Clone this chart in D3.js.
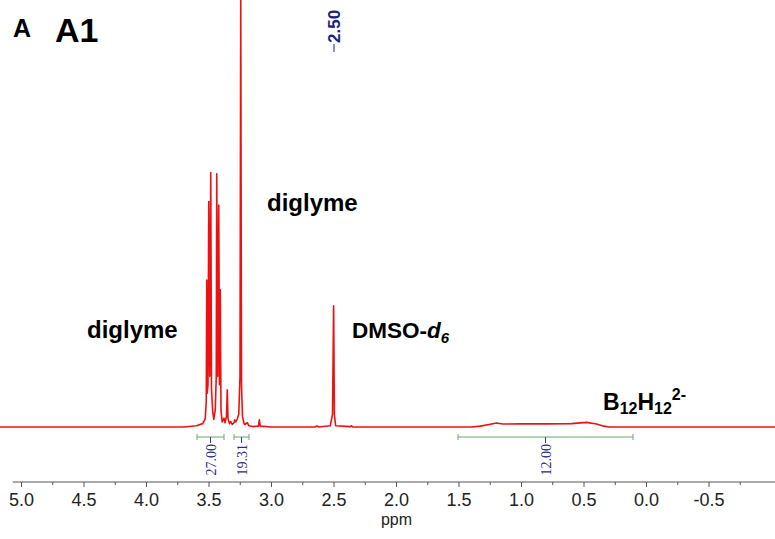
<!DOCTYPE html>
<html>
<head>
<meta charset="utf-8">
<script src="https://cdn.jsdelivr.net/npm/d3@7"></script>
<style>
  body { margin: 0; background: #fff; }
  svg { display: block; font-family: "Liberation Sans", Arial, sans-serif; }
</style>
</head>
<body>
<svg class="chart" width="775" height="539"></svg>
<script>
  // spectrum trace (ppm, relative intensity)
  var specPpm = [5.20, 3.70, 3.60, 3.55, 3.53, 3.522, 3.518, 3.514, 3.508, 3.502, 3.494, 3.486, 3.480, 3.470, 3.462,
                 3.450, 3.442, 3.438, 3.430, 3.422, 3.416, 3.410, 3.404, 3.395, 3.380, 3.372, 3.360, 3.354, 3.348,
                 3.336, 3.326, 3.314, 3.300, 3.294, 3.285, 3.274, 3.262, 3.252, 3.246, 3.240, 3.232, 3.220, 3.214,
                 3.194, 3.180, 3.150, 3.105, 3.097, 3.090, 3.00, 2.65, 2.637, 2.62, 2.53, 2.512, 2.503, 2.497, 2.487,
                 2.37, 2.36, 2.35, 1.40, 1.33, 1.26, 1.20, 1.15, 1.00, 0.80, 0.60, 0.48, 0.40, 0.34, 0.30, -1.05];
  var specInt = [0, 0, 0.3, 0.8, 2.0, 6, 34.8, 8, 10, 53.4, 12, 60.3, 9, 3.5, 1.8,
                 4, 12, 60.0, 12, 52.6, 10, 32.5, 4, 1.2, 2.1, 1.0, 2.5, 8.8, 2,
                 0.8, 1.3, 0.6, 1.0, 1.7, 1.2, 1.9, 3, 12, 102, 10, 2.5, 0.8, 0.6,
                 1.0, 0.3, 0.1, 0.2, 1.7, 0.2, 0, 0, 0.25, 0, 0.3, 3, 28.7, 3, 0.3,
                 0.1, 0.3, 0, 0, 0.2, 0.6, 0.95, 0.7, 0.75, 0.75, 0.8, 1.1, 0.7, 0.2, 0, 0];

  // integrals
  var integFrom = [3.596, 3.30, 1.508];
  var integTo = [3.38, 3.18, 0.108];
  var integLabel = ["27.00", "19.31", "12.00"];

  // axis
  var tickValues = [5.0, 4.5, 4.0, 3.5, 3.0, 2.5, 2.0, 1.5, 1.0, 0.5, 0.0, -0.5];
  var tickLabels = ["5.0", "4.5", "4.0", "3.5", "3.0", "2.5", "2.0", "1.5", "1.0", "0.5", "0.0", "-0.5"];
  var minorTicks = [4.75, 4.25, 3.75, 3.25, 2.75, 2.25, 1.75, 1.25, 0.75, 0.25, -0.25, -0.75];

  var peakLabel = "2.50";

  var width = 775,
      baseY = 427,
      axisY = 482;

  var x = d3.scaleLinear()
      .domain([5.0, 0.0])
      .range([21.5, 646.5]);

  var y = d3.scaleLinear()
      .domain([0, 100])
      .range([baseY, 5]);

  var svg = d3.select(".chart");

  // axis
  var axis = svg.append("g");
  axis.append("line")
      .attr("x1", x(5.07)).attr("x2", width)
      .attr("y1", axisY).attr("y2", axisY)
      .attr("stroke", "#555").attr("stroke-width", 1);

  axis.selectAll(".major")
      .data(tickValues)
    .enter().append("line")
      .attr("x1", x).attr("x2", x)
      .attr("y1", axisY).attr("y2", axisY + 5)
      .attr("stroke", "#555");

  axis.selectAll(".minor")
      .data(minorTicks)
    .enter().append("line")
      .attr("x1", x).attr("x2", x)
      .attr("y1", axisY).attr("y2", axisY + 3)
      .attr("stroke", "#555");

  axis.selectAll("text")
      .data(tickValues)
    .enter().append("text")
      .attr("x", x)
      .attr("y", 506)
      .attr("text-anchor", "middle")
      .attr("font-size", 18)
      .attr("fill", "#222")
      .text(function(d, i) { return tickLabels[i]; });

  svg.append("text")
      .attr("x", x(2.0))
      .attr("y", 525)
      .attr("text-anchor", "middle")
      .attr("font-size", 16)
      .attr("fill", "#222")
      .text("ppm");

  // spectrum
  var line = d3.line()
      .x(function(d) { return x(d[0]); })
      .y(function(d) { return y(d[1]); });

  svg.append("path")
      .datum(d3.zip(specPpm, specInt))
      .attr("d", line)
      .attr("fill", "none")
      .attr("stroke", "#ee1111")
      .attr("stroke-width", 1.6)
      .attr("stroke-linejoin", "round");

  // integrals
  var integ = svg.selectAll(".integ")
      .data(integLabel)
    .enter().append("g");

  integ.append("line")
      .attr("x1", function(d, i) { return x(integFrom[i]); })
      .attr("x2", function(d, i) { return x(integTo[i]); })
      .attr("y1", 437).attr("y2", 437)
      .attr("stroke", "#6aa86a").attr("stroke-width", 1);

  integ.append("line")
      .attr("x1", function(d, i) { return x(integFrom[i]); })
      .attr("x2", function(d, i) { return x(integFrom[i]); })
      .attr("y1", 434).attr("y2", 440)
      .attr("stroke", "#6aa86a");

  integ.append("line")
      .attr("x1", function(d, i) { return x(integTo[i]); })
      .attr("x2", function(d, i) { return x(integTo[i]); })
      .attr("y1", 434).attr("y2", 440)
      .attr("stroke", "#6aa86a");

  integ.append("line")
      .attr("x1", function(d, i) { return x((integFrom[i] + integTo[i]) / 2); })
      .attr("x2", function(d, i) { return x((integFrom[i] + integTo[i]) / 2); })
      .attr("y1", 437).attr("y2", 443)
      .attr("stroke", "#3a3a8a");

  integ.append("text")
      .attr("transform", function(d, i) {
        return "translate(" + (x((integFrom[i] + integTo[i]) / 2) + 5) + ",444) rotate(-90)";
      })
      .attr("text-anchor", "end")
      .attr("font-family", "'Liberation Serif', 'Times New Roman', serif")
      .attr("font-size", 14)
      .attr("fill", "#2a2a8a")
      .text(function(d) { return d; });

  // peak pick label
  svg.append("line")
      .attr("x1", x(2.50)).attr("x2", x(2.50))
      .attr("y1", 44).attr("y2", 52)
      .attr("stroke", "#1c237e").attr("stroke-width", 1);

  svg.append("text")
      .attr("transform", "translate(" + (x(2.50) + 6) + ",43) rotate(-90)")
      .attr("font-size", 17)
      .attr("font-weight", "bold")
      .attr("fill", "#1c237e")
      .text(peakLabel);

  // labels
  svg.append("text").attr("x", 13).attr("y", 37)
      .attr("font-size", 25).attr("font-weight", "bold").text("A");
  svg.append("text").attr("x", 55).attr("y", 42)
      .attr("font-size", 34).attr("font-weight", "bold").text("A1");

  svg.append("text").attr("x", 87).attr("y", 338)
      .attr("font-size", 24).attr("font-weight", "bold").text("diglyme");
  svg.append("text").attr("x", 267).attr("y", 211)
      .attr("font-size", 24).attr("font-weight", "bold").text("diglyme");

  var dmso = svg.append("text").attr("x", 352).attr("y", 338)
      .attr("font-size", 22.5).attr("font-weight", "bold");
  dmso.append("tspan").text("DMSO-");
  dmso.append("tspan").attr("font-style", "italic").text("d");
  dmso.append("tspan").attr("font-style", "italic").attr("font-size", 15).attr("dy", 5).text("6");

  var bh = svg.append("text").attr("x", 603).attr("y", 410)
      .attr("font-size", 23).attr("font-weight", "bold");
  bh.append("tspan").text("B");
  bh.append("tspan").attr("font-size", 16).attr("dy", 4).text("12");
  bh.append("tspan").attr("dy", -4).text("H");
  bh.append("tspan").attr("font-size", 16).attr("dy", 4).text("12");
  bh.append("tspan").attr("font-size", 16).attr("dy", -14).text("2-");
</script>
</body>
</html>
